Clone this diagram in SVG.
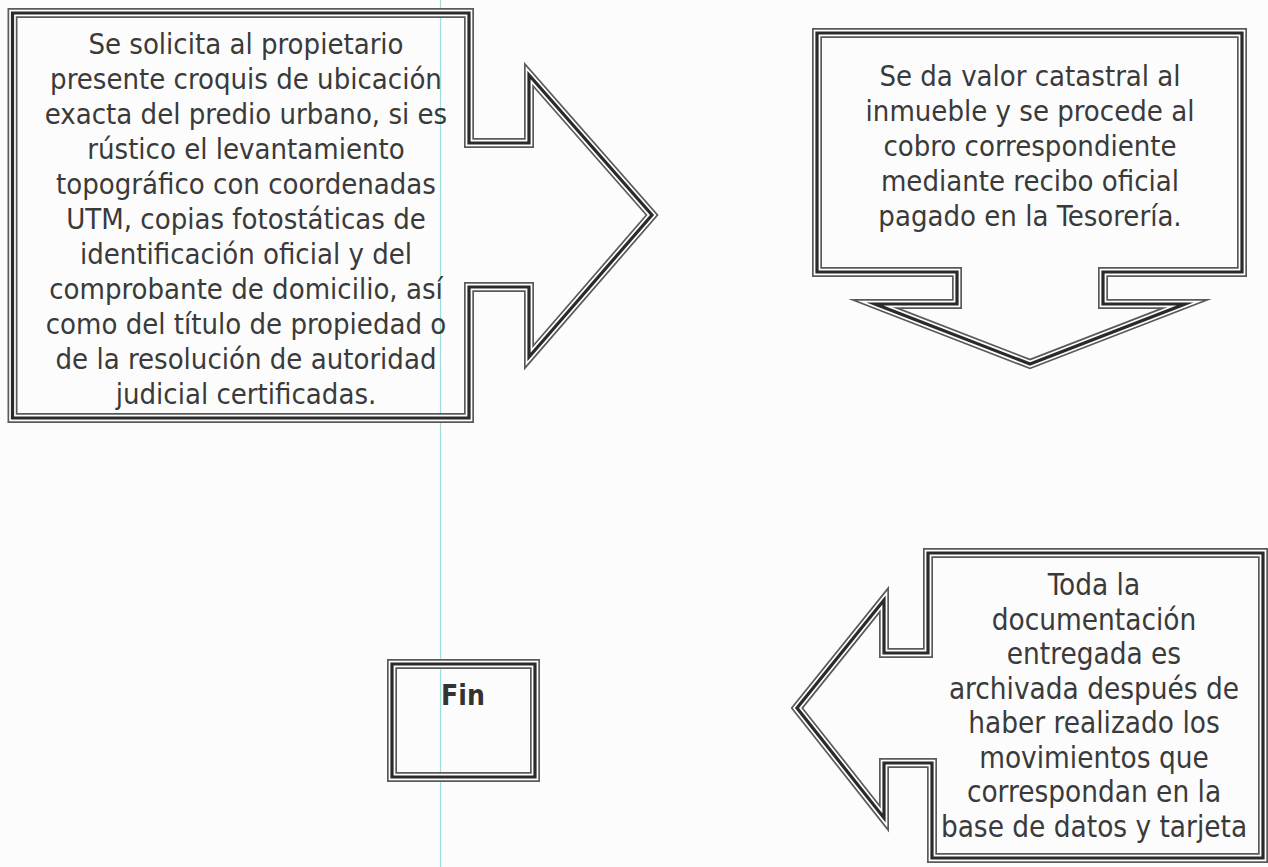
<svg xmlns="http://www.w3.org/2000/svg" xmlns:xlink="http://www.w3.org/1999/xlink" width="1268" height="867" viewBox="0 0 1268 867">
<style>
.o{fill:none;stroke:#5a5a5a;stroke-width:10;stroke-linejoin:miter;stroke-miterlimit:12}
.w{fill:none;stroke:#ffffff;stroke-width:6.6;stroke-linejoin:miter;stroke-miterlimit:12}
.c{fill:none;stroke:#2a2a2a;stroke-width:3.2;stroke-linejoin:miter;stroke-miterlimit:12}
.t{font-family:"DejaVu Sans Condensed","DejaVu Sans",sans-serif;font-size:29px;fill:#3a3a3a;text-anchor:middle}
.t4{font-size:29.4px}
.b{font-family:"DejaVu Sans Condensed","DejaVu Sans",sans-serif;font-size:28px;font-weight:bold;fill:#333333;text-anchor:middle}
</style>
<defs>
<path id="p1" d="M12.5,13 L469,13 L469,143 L529,143 L529,75 L652,215 L529,357 L529,287 L469,287 L469,418 L12.5,418 Z"/>
<path id="p2" d="M817,33 L1242,33 L1242,272 L1103,272 L1103,304 L1185,304 L1030,364 L875,304 L957,304 L957,272 L817,272 Z"/>
<path id="p3" d="M392,664 L535,664 L535,777 L392,777 Z"/>
<path id="p4" d="M928,553 L1263,553 L1263,858 L932,858 L932,763 L884,763 L884,818 L797,708 L884,600 L884,653 L928,653 Z"/>
</defs>
<rect x="0" y="0" width="1268" height="867" fill="#fcfcfc"/>
<line x1="440.5" y1="0" x2="440.5" y2="867" stroke="#9fdcdc" stroke-width="1.2"/>
<g id="connectors"></g>
<g id="node1">
<use xlink:href="#p1" class="o"/><use xlink:href="#p1" class="w"/><use xlink:href="#p1" class="c"/>
<text class="t"><tspan x="246" y="54">Se solicita al propietario</tspan><tspan x="246" y="89">presente croquis de ubicación</tspan><tspan x="246" y="124">exacta del predio urbano, si es</tspan><tspan x="246" y="159">rústico el levantamiento</tspan><tspan x="246" y="194">topográfico con coordenadas</tspan><tspan x="246" y="229">UTM, copias fotostáticas de</tspan><tspan x="246" y="264">identificación oficial y del</tspan><tspan x="246" y="299">comprobante de domicilio, así</tspan><tspan x="246" y="334">como del título de propiedad o</tspan><tspan x="246" y="369">de la resolución de autoridad</tspan><tspan x="246" y="404">judicial certificadas.</tspan></text>
</g>
<g id="node2">
<use xlink:href="#p2" class="o"/><use xlink:href="#p2" class="w"/><use xlink:href="#p2" class="c"/>
<text class="t"><tspan x="1030" y="86">Se da valor catastral al</tspan><tspan x="1030" y="121">inmueble y se procede al</tspan><tspan x="1030" y="156">cobro correspondiente</tspan><tspan x="1030" y="191">mediante recibo oficial</tspan><tspan x="1030" y="226">pagado en la Tesorería.</tspan></text>
</g>
<g id="node3">
<use xlink:href="#p3" class="o"/><use xlink:href="#p3" class="w"/><use xlink:href="#p3" class="c"/>
<text class="b" x="463" y="705">Fin</text>
</g>
<g id="node4">
<use xlink:href="#p4" class="o"/><use xlink:href="#p4" class="w"/><use xlink:href="#p4" class="c"/>
<text class="t t4"><tspan x="1094" y="595">Toda la</tspan><tspan x="1094" y="629.5">documentación</tspan><tspan x="1094" y="664">entregada es</tspan><tspan x="1094" y="698.5">archivada después de</tspan><tspan x="1094" y="733">haber realizado los</tspan><tspan x="1094" y="767.5">movimientos que</tspan><tspan x="1094" y="802">correspondan en la</tspan><tspan x="1094" y="836.5">base de datos y tarjeta</tspan></text>
</g>
</svg>
